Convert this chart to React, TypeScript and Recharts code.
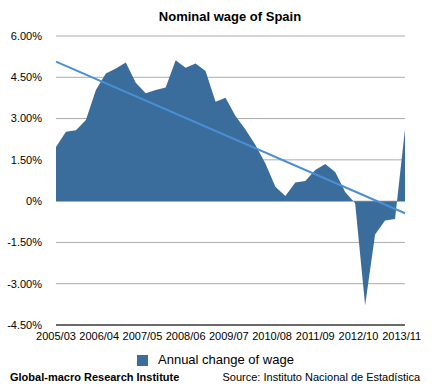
import React from "react";
import { ComposedChart, Area, Line, XAxis, YAxis, CartesianGrid } from "recharts";

// Quarterly observations (annual % change of nominal wage), 2005/03 .. 2013/12
const quarterMonths: string[] = [
  "2005/03", "2005/06", "2005/09", "2005/12",
  "2006/03", "2006/06", "2006/09", "2006/12",
  "2007/03", "2007/06", "2007/09", "2007/12",
  "2008/03", "2008/06", "2008/09", "2008/12",
  "2009/03", "2009/06", "2009/09", "2009/12",
  "2010/03", "2010/06", "2010/09", "2010/12",
  "2011/03", "2011/06", "2011/09", "2011/12",
  "2012/03", "2012/06", "2012/09", "2012/12",
  "2013/03", "2013/06", "2013/09", "2013/12",
];
const wageChange: number[] = [
  1.97, 2.52, 2.58, 2.95,
  4.04, 4.64, 4.82, 5.04,
  4.30, 3.92, 4.04, 4.13,
  5.12, 4.85, 5.00, 4.73,
  3.61, 3.76, 3.09, 2.60,
  2.04, 1.37, 0.52, 0.19,
  0.68, 0.73, 1.13, 1.35,
  1.06, 0.33, -0.08, -3.78,
  -1.21, -0.70, -0.65, 2.61,
];
// Linear trend endpoints
const trendStart = 5.07;
const trendEnd = -0.44;

const yTicks: number[] = [-4.5, -3, -1.5, 0, 1.5, 3, 4.5, 6];

// Monthly category axis 2005/03 .. 2013/12
const months: string[] = [];
for (let y = 2005; y <= 2013; y++) {
  for (let m = 1; m <= 12; m++) {
    if (y === 2005 && m < 3) continue;
    months.push(`${y}/${m < 10 ? "0" + m : m}`);
  }
}

const data = months.map((label, i) => {
  const qi = quarterMonths.indexOf(label);
  return {
    label,
    wage: qi >= 0 ? wageChange[qi] : null,
    trend: i === 0 ? trendStart : i === months.length - 1 ? trendEnd : null,
  };
});

const fmt = (v: number) => (v === 0 ? "0%" : `${v.toFixed(2)}%`);

const FONT = "'Liberation Sans', Arial, Helvetica, sans-serif";

export default function App() {
  return (
    <div style={{ position: "absolute", left: 0, top: 0, width: 432, height: 389, background: "#fff", fontFamily: FONT }}>
      <div style={{ position: "absolute", left: 0, top: 8, width: 460, textAlign: "center", fontWeight: "bold", fontSize: 13, lineHeight: "18px", color: "#000" }}>
        Nominal wage of Spain
      </div>
      <ComposedChart
        width={432}
        height={389}
        data={data}
        margin={{ top: 36, right: 27, bottom: 44, left: 10 }}
        style={{ fontFamily: FONT }}
      >
        <CartesianGrid horizontal vertical={false} stroke="#aaaaaa" strokeWidth={1} />
        <XAxis
          dataKey="label"
          interval={12}
          tickLine={false}
          axisLine={{ stroke: "#000", strokeWidth: 1 }}
          tick={{ fill: "#000", fontSize: 11 }}
          tickMargin={1}
          height={20}
        />
        <YAxis
          type="number"
          domain={[-4.5, 6]}
          ticks={yTicks}
          tickFormatter={fmt}
          axisLine={false}
          tickLine={false}
          tick={{ fill: "#000", fontSize: 11 }}
          tickMargin={8}
          width={46}
        />
        <Area
          type="linear"
          dataKey="wage"
          connectNulls
          stroke="none"
          fill="#3a6d9b"
          fillOpacity={1}
          isAnimationActive={false}
          dot={false}
          activeDot={false}
        />
        <Line
          type="linear"
          dataKey="trend"
          connectNulls
          stroke="#4a8fd6"
          strokeWidth={2}
          dot={false}
          activeDot={false}
          isAnimationActive={false}
        />
      </ComposedChart>
      <div style={{ position: "absolute", left: 137, top: 355, width: 11, height: 11, background: "#3a6d9b" }} />
      <div style={{ position: "absolute", left: 158, top: 352, fontSize: 13, lineHeight: "16px", color: "#000" }}>
        Annual change of wage
      </div>
      <div style={{ position: "absolute", left: 10, top: 370, fontSize: 11, fontWeight: "bold", lineHeight: "14px", color: "#000", whiteSpace: "nowrap" }}>
        Global-macro Research Institute
      </div>
      <div style={{ position: "absolute", right: 12, top: 370, fontSize: 11, lineHeight: "14px", color: "#000", whiteSpace: "nowrap" }}>
        Source: Instituto Nacional de Estadística
      </div>
    </div>
  );
}
